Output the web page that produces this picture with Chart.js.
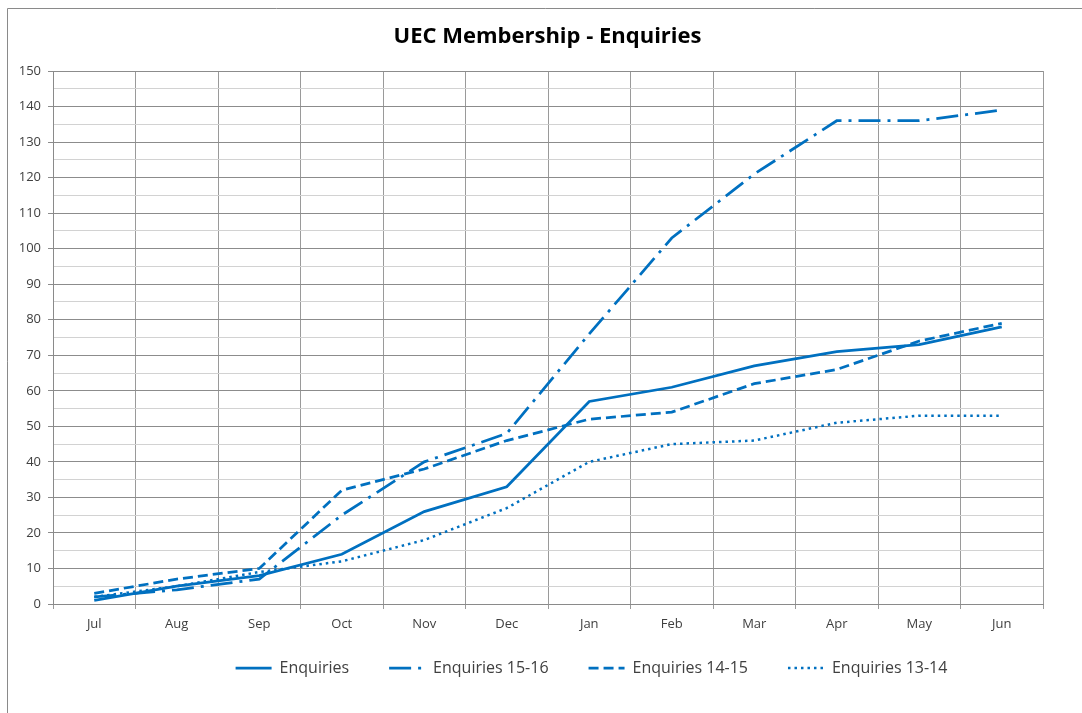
<!DOCTYPE html>
<html>
<head>
<meta charset="utf-8">
<script src="https://cdn.jsdelivr.net/npm/chart.js@4/dist/chart.umd.min.js"></script>
<style>
  html, body { margin: 0; padding: 0; background: #ffffff; }
  #wrap { width: 1082px; height: 713px; position: relative; }
</style>
</head>
<body>
<div id="wrap"><canvas id="c"></canvas></div>
<script>
const months = ['Jul','Aug','Sep','Oct','Nov','Dec','Jan','Feb','Mar','Apr','May','Jun'];
const enquiries   = [1, 5, 8, 14, 26, 33, 57, 61, 67, 71, 73, 78];
const enquiries1516 = [2, 4, 7, 25, 40, 48, 76, 103, 121, 136, 136, 139];
const enquiries1415 = [3, 7, 10, 32, 38, 46, 52, 54, 62, 66, 74, 79];
const enquiries1314 = [2, 5, 9, 12, 18, 27, 40, 45, 46, 51, 53, 53];
const seriesNames = ['Enquiries', 'Enquiries 15-16', 'Enquiries 14-15', 'Enquiries 13-14'];
const yMin = 0, yMax = 150, yStep = 5, yLabelStep = 10;

const BLUE = '#0070C0';

const frame = {
  id: 'frame',
  beforeDraw(chart) {
    const ctx = chart.ctx;
    ctx.save();
    ctx.fillStyle = '#ffffff';
    ctx.fillRect(0, 0, chart.width, chart.height);
    ctx.strokeStyle = '#8a8a8a';
    ctx.lineWidth = 1;
    ctx.beginPath();
    ctx.moveTo(7.5, chart.height + 5);
    ctx.lineTo(7.5, 8.5);
    ctx.lineTo(chart.width + 5, 8.5);
    ctx.stroke();
    ctx.restore();
  },
  afterLayout(chart) {
    const lg = chart.legend;
    if (lg) {
      lg.left += 70; lg.right += 70;
      const h = lg.bottom - lg.top;
      lg.top = 620; lg.bottom = 620 + h;
    }
    const t = chart.titleBlock;
    if (t) { t.left += 26; t.right += 26; }
  }
};

function ds(label, data, dash, width) {
  return {
    label, data,
    borderColor: BLUE, backgroundColor: BLUE,
    borderWidth: width, borderDash: dash,
    pointRadius: 0, pointHoverRadius: 0, tension: 0, fill: false,
    borderCapStyle: 'butt'
  };
}

new Chart(document.getElementById('c'), {
  type: 'line',
  data: {
    labels: months,
    datasets: [
      ds(seriesNames[0], enquiries, [], 2.75),
      ds(seriesNames[1], enquiries1516, [22, 7, 3, 7], 2.75),
      ds(seriesNames[2], enquiries1415, [10, 5], 2.75),
      ds(seriesNames[3], enquiries1314, [2.5, 4], 2.5)
    ]
  },
  options: {
    responsive: true,
    maintainAspectRatio: false,
    animation: false,
    events: [],
    layout: { padding: { left: 0, right: 39, top: 0, bottom: 13 } },
    plugins: {
      title: {
        display: true,
        text: 'UEC Membership - Enquiries',
        color: '#000000',
        font: { family: 'Open Sans', size: 22, weight: 'bold' },
        padding: { top: 24, bottom: 20.6 }
      },
      legend: {
        display: true,
        position: 'bottom',
        labels: {
          usePointStyle: true,
          pointStyleWidth: 36,
          boxHeight: 14,
          padding: 40,
          color: '#404040',
          font: { family: 'Open Sans', size: 16 },
          generateLabels(chart) {
            return chart.data.datasets.map((d, i) => ({
              text: d.label,
              datasetIndex: i,
              fillStyle: d.borderColor,
              strokeStyle: d.borderColor,
              lineWidth: d.borderWidth,
              lineDash: d.borderDash,
              lineCap: 'butt',
              pointStyle: 'line',
              hidden: false,
              fontColor: '#404040'
            }));
          }
        }
      },
      tooltip: { enabled: false }
    },
    scales: {
      x: {
        offset: true,
        afterFit(s) { s.height = 30; },
        grid: {
          offset: true,
          color: '#9a9a9a',
          lineWidth: 1,
          tickLength: 5,
          tickColor: '#9a9a9a'
        },
        border: { color: '#8a8a8a', width: 1 },
        ticks: {
          color: '#404040',
          padding: 7,
          maxRotation: 0,
          autoSkip: false,
          font: { family: 'Open Sans', size: 13 }
        }
      },
      y: {
        min: yMin, max: yMax,
        afterFit(s) { s.width = 53; },
        grid: {
          color: (c) => (c.tick && c.tick.value % yLabelStep === 0) ? '#8c8c8c' : '#d2d2d2',
          tickColor: (c) => (c.tick && c.tick.value % yLabelStep === 0) ? '#8c8c8c' : 'rgba(0,0,0,0)',
          tickLength: 5,
          lineWidth: 1
        },
        border: { color: '#8a8a8a', width: 1 },
        ticks: {
          stepSize: yStep,
          autoSkip: false,
          color: '#404040',
          padding: 7,
          font: { family: 'Open Sans', size: 13 },
          callback: (v) => (v % yLabelStep === 0 ? String(v) : '')
        }
      }
    }
  },
  plugins: [frame]
});
</script>
</body>
</html>
